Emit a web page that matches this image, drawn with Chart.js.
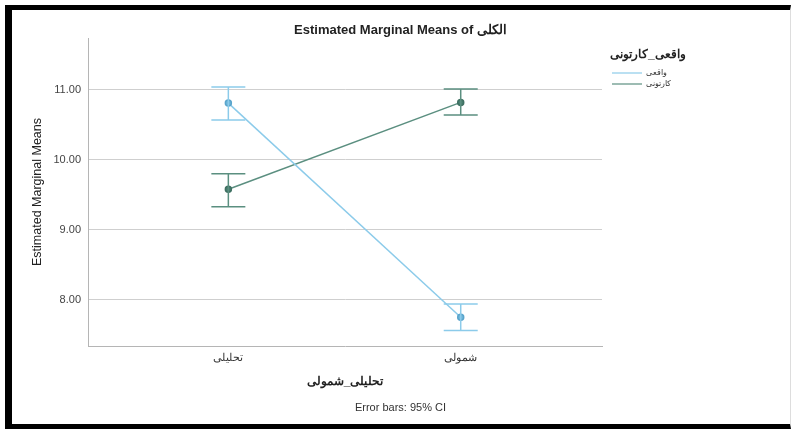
<!DOCTYPE html>
<html>
<head>
<meta charset="utf-8">
<script src="https://cdn.jsdelivr.net/npm/chart.js@4.4.1/dist/chart.umd.min.js"></script>
<style>
  html, body { margin: 0; padding: 0; background: #fff; }
  #frame {
    position: absolute; left: 5px; top: 5px; width: 786px; height: 424px;
    box-sizing: border-box;
    border-left: 7px solid #000; border-top: 5px solid #000; border-bottom: 5px solid #000;
    border-right: 1px solid #ddd;
  }
  #wrap { position: absolute; left: 12px; top: 10px; width: 777px; height: 414px; }
</style>
</head>
<body>
<div id="frame"></div>
<div id="wrap"><canvas id="emmChart"></canvas></div>
<script>
// x categories and series (estimated marginal means with 95% CI)
let categories = ['تحلیلی', 'شمولی'];
let seriesNames = ['واقعی', 'کارتونی'];
let realMeans = [10.81, 7.75];
let realLow = [10.57, 7.56];
let realHigh = [11.04, 7.94];
let cartoonMeans = [9.58, 10.82];
let cartoonLow = [9.33, 10.64];
let cartoonHigh = [9.80, 11.01];
let yTicks = [8, 9, 10, 11];

let blue = '#8ccbea';
let green = '#5b8f80';
let font = '"Liberation Sans", Arial, sans-serif';

let toPoints = (means) => means.map((m, i) => ({ x: i, y: m }));

let errorBars = {
  id: 'errorBars',
  afterDatasetsDraw(chart) {
    let ctx = chart.ctx;
    let xs = chart.scales.x;
    let ys = chart.scales.y;
    let sets = [
      { low: realLow, high: realHigh, color: blue },
      { low: cartoonLow, high: cartoonHigh, color: green },
    ];
    ctx.save();
    sets.forEach((s) => {
      ctx.strokeStyle = s.color;
      ctx.lineWidth = 1.5;
      s.low.forEach((lo, i) => {
        let x = xs.getPixelForValue(i);
        let y1 = ys.getPixelForValue(lo);
        let y2 = ys.getPixelForValue(s.high[i]);
        ctx.beginPath();
        ctx.moveTo(x, y1); ctx.lineTo(x, y2);
        ctx.moveTo(x - 17, y1); ctx.lineTo(x + 17, y1);
        ctx.moveTo(x - 17, y2); ctx.lineTo(x + 17, y2);
        ctx.stroke();
      });
    });
    ctx.restore();
  },
};

let sideLegend = {
  id: 'sideLegend',
  afterDraw(chart) {
    let ctx = chart.ctx;
    let r = chart.chartArea.right;
    ctx.save();
    ctx.fillStyle = '#222';
    ctx.textBaseline = 'middle';
    ctx.textAlign = 'left';
    ctx.font = 'bold 12px ' + font;
    ctx.fillText('واقعی_کارتونی', r + 8, 45);
    let colors = [blue, green];
    ctx.font = '8px ' + font;
    seriesNames.forEach((name, i) => {
      let y = 63 + i * 11;
      ctx.strokeStyle = colors[i];
      ctx.lineWidth = 1.2;
      ctx.beginPath();
      ctx.moveTo(r + 10, y); ctx.lineTo(r + 40, y);
      ctx.stroke();
      ctx.fillStyle = '#333';
      ctx.fillText(name, r + 44, y);
    });
    ctx.restore();
  },
};

let ctx = document.getElementById('emmChart').getContext('2d');

new Chart(ctx, {
  type: 'line',
  data: {
    datasets: [
      {
        label: seriesNames[0],
        data: toPoints(realMeans),
        borderColor: blue,
        backgroundColor: '#6fb6da',
        pointBorderColor: '#5aa5cc',
        borderWidth: 1.5,
        pointRadius: 3,
      },
      {
        label: seriesNames[1],
        data: toPoints(cartoonMeans),
        borderColor: green,
        backgroundColor: '#4a7f70',
        pointBorderColor: '#3f7062',
        borderWidth: 1.5,
        pointRadius: 3,
      },
    ],
  },
  plugins: [errorBars, sideLegend],
  options: {
    responsive: true,
    maintainAspectRatio: false,
    animation: false,
    layout: { padding: 0 },
    plugins: {
      legend: { display: false },
      tooltip: { enabled: false },
      title: {
        display: true,
        text: 'Estimated Marginal Means of الکلی',
        color: '#222',
        font: { family: font, size: 13, weight: 'bold' },
        padding: { top: 12.4, bottom: 0 },
      },
      subtitle: {
        display: true,
        position: 'bottom',
        text: 'Error bars: 95% CI',
        color: '#333',
        font: { family: font, size: 11 },
        padding: { top: 8.4, bottom: 9.4 },
      },
    },
    scales: {
      x: {
        type: 'linear',
        min: -0.604,
        max: 1.608,
        afterBuildTicks: (scale) => { scale.ticks = categories.map((c, i) => ({ value: i })); },
        afterFit: (scale) => { scale.height = 47; },
        ticks: {
          callback: (value) => categories[value],
          color: '#333',
          padding: 5.7,
          font: { family: font, size: 10.5 },
        },
        grid: { display: false, drawTicks: false },
        border: { display: true, color: '#b5b5b5', width: 1 },
        title: {
          display: true,
          text: 'تحلیلی_شمولی',
          color: '#222',
          font: { family: font, size: 12, weight: 'bold' },
          padding: { top: 0, bottom: 3.8 },
        },
      },
      y: {
        min: 7.34,
        max: 11.74,
        afterBuildTicks: (scale) => { scale.ticks = yTicks.map((v) => ({ value: v })); },
        afterFit: (scale) => { scale.width = 76; },
        ticks: {
          callback: (value) => value.toFixed(2),
          color: '#444',
          padding: 7,
          font: { family: font, size: 11 },
        },
        grid: { color: '#cfcfcf', drawTicks: false },
        border: { display: true, color: '#b5b5b5', width: 1 },
        title: {
          display: true,
          text: 'Estimated Marginal Means',
          color: '#222',
          font: { family: font, size: 12.5 },
          padding: { top: 18, bottom: 0 },
        },
      },
      // empty right-hand axis that reserves the legend space
      side: {
        type: 'linear',
        position: 'right',
        min: 7.34,
        max: 11.74,
        afterFit: (scale) => { scale.width = 187; },
        ticks: { display: false },
        grid: { display: false, drawTicks: false },
        border: { display: false },
      },
    },
  },
});
</script>
</body>
</html>
